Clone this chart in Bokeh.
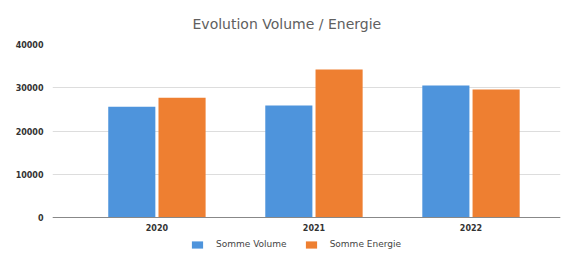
from bokeh.plotting import figure
from bokeh.models import Range1d, FixedTicker, Legend, LegendItem, ColumnDataSource
from bokeh.transform import dodge
from bokeh.embed import file_html
from bokeh.resources import INLINE

years = ["2020", "2021", "2022"]
volume = [25600, 25900, 30500]
energie = [27700, 34200, 29600]
y_ticks = [0, 10000, 20000, 30000, 40000]
series_names = ["Somme Volume", "Somme Energie"]

xs = list(range(len(years)))
src = ColumnDataSource(dict(x=xs, volume=volume, energie=energie))

y_top = 40000
y_bottom = -35 * y_top / 173.0

p = figure(frame_width=508, frame_height=208, output_backend="svg", toolbar_location=None,
           x_range=Range1d(-0.665, 2.57), y_range=Range1d(y_bottom, y_top),
           title="Evolution Volume / Energie")
p.min_border_left = 52
p.min_border_right = 5
p.min_border_bottom = 0
p.min_border_top = 44

p.title.align = "left"
p.title.offset = 140
p.title.text_font = "DejaVu Sans"
p.title.text_font_size = "14px"
p.title.text_font_style = "normal"
p.title.text_color = "#606060"
p.title.standoff = 26

r1 = p.vbar(x=dodge("x", -0.16, range=p.x_range), top="volume", width=0.30, source=src,
            fill_color="#4E94DC", line_color=None)
r2 = p.vbar(x=dodge("x", 0.16, range=p.x_range), top="energie", width=0.30, source=src,
            fill_color="#EE7F31", line_color=None)

p.xaxis.fixed_location = 0
p.xaxis.ticker = FixedTicker(ticks=xs)
p.xaxis.major_label_overrides = {i: y for i, y in enumerate(years)}
p.yaxis.ticker = FixedTicker(ticks=y_ticks)
for ax in (p.xaxis[0], p.yaxis[0]):
    ax.major_tick_line_color = None
    ax.minor_tick_line_color = None
    ax.major_label_text_font = "DejaVu Sans"
    ax.major_label_text_font_size = "8px"
    ax.major_label_text_font_style = "bold"
    ax.major_label_text_color = "#333333"
p.yaxis.axis_line_color = None
p.xaxis.axis_line_color = "#888888"
p.xaxis.major_label_standoff = 0
p.yaxis.major_label_standoff = 3

p.xgrid.grid_line_color = None
p.ygrid.grid_line_color = "#dddddd"
p.outline_line_color = None

legend = Legend(items=[LegendItem(label=series_names[0], renderers=[r1]),
                       LegendItem(label=series_names[1], renderers=[r2])],
                orientation="horizontal", location=(138, 3))
legend.label_text_font = "DejaVu Sans"
legend.label_text_font_size = "9px"
legend.label_text_color = "#444444"
legend.glyph_width = 14
legend.glyph_height = 9
legend.spacing = 17
legend.padding = 0
legend.margin = 0
legend.border_line_color = None
legend.background_fill_alpha = 0
legend.label_standoff = 12
p.add_layout(legend, "center")

open("out.html", "w").write(file_html(p, INLINE))
